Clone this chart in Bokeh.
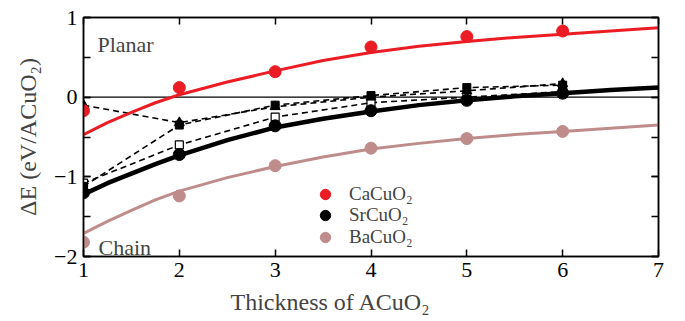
from bokeh.plotting import figure
from bokeh.models import (Range1d, LinearAxis, Span, Label, Title, FixedTicker,
                          SingleIntervalTicker, Legend, LegendItem)
from bokeh.embed import file_html
from bokeh.resources import INLINE

# ---------------- data ----------------
thickness = [1, 2, 3, 4, 5, 6]
ca_points = [-0.17, 0.12, 0.32, 0.63, 0.76, 0.83]
sr_points = [-1.20, -0.72, -0.36, -0.17, -0.04, 0.05]
ba_points = [-1.82, -1.24, -0.86, -0.64, -0.52, -0.43]

fit_x = [1, 1.25, 1.5, 1.75, 2, 2.5, 3, 3.5, 4, 4.5, 5, 5.5, 6, 6.5, 7]
ca_fit = [-0.47, -0.32, -0.19, -0.07, 0.03, 0.19, 0.33, 0.46, 0.56, 0.64, 0.70, 0.75, 0.79, 0.83, 0.87]
sr_fit = [-1.22, -1.08, -0.96, -0.84, -0.73, -0.54, -0.38, -0.27, -0.18, -0.10, -0.04, 0.01, 0.05, 0.09, 0.12]
ba_fit = [-1.71, -1.56, -1.42, -1.29, -1.18, -1.01, -0.87, -0.75, -0.65, -0.58, -0.52, -0.47, -0.43, -0.39, -0.35]

tri_vals = [-0.10, -0.32, -0.12, 0.00, 0.08, 0.17]
sqf_vals = [-1.12, -0.35, -0.10, 0.02, 0.12, 0.15]
sqo_vals = [-1.08, -0.60, -0.25, -0.07, 0.00, 0.07]

series_names = ["CaCuO₂", "SrCuO₂", "BaCuO₂"]
x_ticks = [1, 2, 3, 4, 5, 6, 7]

RED = "#ec1c24"
BROWN = "#bf8c8c"
FONT = "Liberation Serif"

p = figure(width=685, height=321, x_range=Range1d(1, 7), y_range=Range1d(-2, 1),
           output_backend="svg", toolbar_location=None,
           min_border_left=83, min_border_right=27, min_border_top=17, min_border_bottom=62)
p.xgrid.visible = False
p.ygrid.visible = False
p.outline_line_color = "black"
p.outline_line_width = 1.5
p.background_fill_color = "white"

def style_x(ax, labels=True):
    ax.ticker = FixedTicker(ticks=x_ticks)
    ax.major_tick_in = 7
    ax.major_tick_out = 0
    ax.minor_tick_line_color = None
    ax.axis_line_width = 1.5
    ax.major_tick_line_width = 1.5
    ax.major_label_text_font = FONT
    ax.major_label_text_font_size = "22px" if labels else "0px"
    ax.major_label_standoff = 6 if labels else 0
    ax.major_label_text_color = "black" if labels else None

def style_y(ax, labels=True):
    ax.ticker = SingleIntervalTicker(interval=1, num_minor_ticks=2)
    ax.major_tick_in = 7
    ax.major_tick_out = 0
    ax.minor_tick_in = 7
    ax.minor_tick_out = 0
    ax.axis_line_width = 1.5
    ax.major_tick_line_width = 1.5
    ax.minor_tick_line_width = 1.5
    ax.major_label_text_font = FONT
    ax.major_label_text_font_size = "22px" if labels else "0px"
    ax.major_label_standoff = 6 if labels else 0
    ax.major_label_text_color = "black" if labels else None

style_x(p.xaxis[0])
style_y(p.yaxis[0])

top = LinearAxis()
style_x(top, labels=False)
p.add_layout(top, "above")
right = LinearAxis()
style_y(right, labels=False)
p.add_layout(right, "right")

p.add_layout(Title(text="ΔE (eV/ACuO₂)", align="center", offset=-21,
                   text_font=FONT, text_font_size="24px", text_font_style="normal",
                   standoff=22), "left")
p.add_layout(Title(text="Thickness of ACuO₂", align="left", offset=147,
                   text_font=FONT, text_font_size="24px", text_font_style="normal",
                   standoff=14), "below")

p.add_layout(Span(location=0, dimension="width", line_color="black", line_width=1.2, level="underlay"))

# dashed series
for vals in (tri_vals, sqf_vals, sqo_vals):
    p.line(thickness, vals, line_color="black", line_width=1.6, line_dash="6 4")
p.scatter(thickness, sqo_vals, marker="square", size=8, fill_color="white", line_color="black", line_width=1.2)
p.scatter(thickness, sqf_vals, marker="square", size=8, fill_color="black", line_color="black")
p.scatter(thickness, tri_vals, marker="triangle", size=10, fill_color="black", line_color="black")

# fit curves
p.line(fit_x, ba_fit, line_color=BROWN, line_width=3)
p.line(fit_x, ca_fit, line_color=RED, line_width=3)
p.line(fit_x, sr_fit, line_color="black", line_width=4.5)

# data points
r_ca = p.scatter(thickness, ca_points, size=12, color=RED)
r_sr = p.scatter(thickness, sr_points, size=12, color="black")
r_ba = p.scatter(thickness, ba_points, size=12, color=BROWN)

# legend: one single-row legend per series, stacked tightly as in the reference
for name, rend, ypos in zip(series_names, [r_ca, r_sr, r_ba], [49, 28, 6]):
    lg = Legend(items=[LegendItem(label=name, renderers=[rend])],
                location=(227, ypos), orientation="vertical",
                glyph_width=30, glyph_height=26, label_height=26, spacing=0,
                padding=0, margin=0, label_standoff=9,
                label_text_font=FONT, label_text_font_size="19px",
                border_line_color=None, background_fill_alpha=0)
    p.add_layout(lg, "center")

p.add_layout(Label(x=1.146, y=0.665, text="Planar", text_font=FONT, text_font_size="22px",
                   text_baseline="alphabetic"))
p.add_layout(Label(x=1.157, y=-1.888, text="Chain", text_font=FONT, text_font_size="22px",
                   text_baseline="alphabetic"))

open("out.html", "w").write(file_html(p, INLINE))
